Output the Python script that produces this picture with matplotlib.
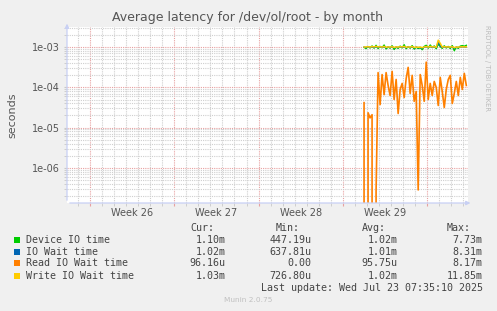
import matplotlib
matplotlib.use("Agg")
import matplotlib.pyplot as plt
import numpy as np
from matplotlib.patches import Rectangle

# data: one sample every 4 hours, starting ~24.7 days into the graph window (days)
t_start = 24.69
step = 1.0 / 6.0

# Device IO time, ms
device_io_ms = [1.00, 0.93, 1.04, 0.96, 1.08, 0.95, 1.12, 0.93, 1.05, 0.97, 1.14, 0.91, 1.02,
                0.95, 1.09, 0.88, 1.01, 0.94, 1.07, 0.96, 1.16, 0.92, 1.04, 0.95, 1.10, 0.90,
                1.01, 0.93, 0.98, 0.87, 1.05, 1.12, 0.95, 1.14, 0.98, 1.08, 0.92, 1.20, 1.04,
                0.94, 1.09, 0.96, 1.05, 0.93, 1.10, 0.82, 1.01, 0.94, 1.07, 1.10, 1.06, 1.12]
# IO Wait time, ms
io_wait_ms = [1.00, 0.99, 1.01, 1.00, 1.02, 0.99, 1.03, 1.00, 1.01, 1.00, 1.04, 0.98, 1.00,
              0.99, 1.02, 0.97, 1.00, 0.99, 1.01, 1.00, 1.04, 0.98, 1.01, 0.99, 1.03, 0.97,
              1.00, 0.98, 0.99, 0.96, 1.01, 1.03, 0.99, 1.04, 1.00, 1.02, 0.98, 1.35, 1.10,
              0.99, 1.02, 1.00, 1.01, 0.99, 1.02, 0.95, 1.00, 0.99, 1.01, 1.02, 1.01, 1.02]
# Read IO Wait time, us
read_wait_us = [41.7, 0.0, 23.4, 17.4, 20.9, 0.0, 0.26, 234, 37.2, 209, 66, 234, 112,
                63, 251, 50, 158, 22.4, 89, 126, 56, 166, 316, 71, 200, 45,
                79, 0.28, 209, 112, 45, 427, 50, 126, 63, 141, 100, 35.5, 178,
                79, 31.6, 89, 158, 200, 39.8, 71, 141, 63, 178, 89, 224, 112]
# Write IO Wait time, ms
write_wait_ms = [1.01, 1.02, 1.03, 1.01, 1.04, 1.02, 1.05, 1.02, 1.03, 1.01, 1.05, 1.00, 1.02,
                 1.01, 1.03, 0.99, 1.02, 1.01, 1.03, 1.02, 1.05, 1.00, 1.02, 1.01, 1.04, 0.99,
                 1.01, 1.00, 1.01, 0.98, 1.02, 1.04, 1.01, 1.05, 1.02, 1.03, 1.00, 1.50, 1.25,
                 1.01, 1.03, 1.02, 1.02, 1.01, 1.03, 0.98, 1.01, 1.01, 1.02, 1.03, 1.02, 1.03]

series_names = ["Device IO time", "IO Wait time", "Read IO Wait time", "Write IO Wait time"]
series_colors = ["#00cc00", "#0066b3", "#ff8000", "#ffcc00"]
cur_vals = ["1.10m", "1.02m", "96.16u", "1.03m"]
min_vals = ["447.19u", "637.81u", "0.00", "726.80u"]
avg_vals = ["1.02m", "1.01m", "95.75u", "1.02m"]
max_vals = ["7.73m", "8.31m", "8.17m", "11.85m"]

week_labels = ["Week 26", "Week 27", "Week 28", "Week 29"]
week_starts = [1.92, 8.92, 15.92, 22.92, 29.92]
x_span = 33.33

W, H = 497, 311
fig = plt.figure(figsize=(W / 100, H / 100), dpi=100, facecolor="#f0f0f0")
ax = fig.add_axes([67 / W, 1 - 203 / H, 401 / W, 176 / H])
ax.set_facecolor("white")

t = t_start + step * np.arange(len(device_io_ms))
ax.plot(t, np.array(device_io_ms) * 1e-3, color=series_colors[0], lw=1.0, zorder=3)
ax.plot(t, np.array(io_wait_ms) * 1e-3, color=series_colors[1], lw=1.0, zorder=3)
ax.plot(t, np.array(read_wait_us) * 1e-6, color=series_colors[2], lw=1.2, zorder=3)
ax.plot(t, np.array(write_wait_ms) * 1e-3, color=series_colors[3], lw=1.1, zorder=3)

ax.set_yscale("log", nonpositive="clip")
ax.set_ylim(1.32e-7, 3.2e-3)
ax.set_xlim(0, x_span)

# grid
ax.set_xticks(week_starts)
ax.set_xticks(np.arange(0.92, x_span, 1.0), minor=True)
ax.set_xticklabels([])
ax.set_yticks([1e-6, 1e-5, 1e-4, 1e-3])
ax.set_yticklabels(["1e-06", "1e-05", "1e-04", "1e-03"])
ax.grid(True, which="minor", color="#cfcfcf", ls=(0, (1, 1)), lw=0.8, zorder=1)
ax.grid(True, which="major", color="#e8a0a0", ls=(0, (1, 1)), lw=0.8, zorder=2)
ax.tick_params(axis="y", which="both", length=2, colors="#c8c8c8", labelcolor="#555555",
               labelsize=7, pad=3)
ax.tick_params(axis="x", which="minor", length=2, colors="#c8c8c8")
ax.tick_params(axis="x", which="major", length=2, colors="#e8a0a0")
for s in ax.spines.values():
    s.set_visible(False)

# axis lines with arrows
axis_col = "#c8d0f4"
ax.annotate("", xy=(1.013, 0), xytext=(0, 0), xycoords="axes fraction",
            arrowprops=dict(arrowstyle="-|>", color=axis_col, lw=0.9, mutation_scale=6),
            annotation_clip=False)
ax.annotate("", xy=(0, 1.035), xytext=(0, 0), xycoords="axes fraction",
            arrowprops=dict(arrowstyle="-|>", color=axis_col, lw=0.9, mutation_scale=6),
            annotation_clip=False)

for i, lab in enumerate(week_labels):
    mid = (week_starts[i] + week_starts[i + 1]) / 2
    ax.text(mid, -0.055, lab, transform=ax.get_xaxis_transform(), ha="center", va="center",
            fontsize=7, color="#555555")

fig.text(248 / W, 1 - 18 / H, "Average latency for /dev/ol/root - by month", ha="center",
         va="center", fontsize=9, color="#555555")
fig.text(12 / W, 1 - 115 / H, "seconds", rotation=90, ha="center", va="center",
         fontsize=8, color="#555555")
fig.text(487 / W, 1 - 25 / H, "RRDTOOL / TOBI OETIKER", rotation=270, ha="center", va="top",
         fontsize=4.9, color="#bbbbbb")

# legend
mono = dict(family="DejaVu Sans Mono", fontsize=7.2, color="#444444", va="center")
cols_x = [225.7, 311.7, 397.3, 482.7]
headers = ["Cur:", "Min:", "Avg:", "Max:"]
hdr_x = [190, 276, 361.7, 446.7]
for hx, h in zip(hdr_x, headers):
    fig.text(hx / W, 1 - 228 / H, h, ha="left", **mono)
rows_y = [239.7, 251.7, 263.3, 275.7]
for i, name in enumerate(series_names):
    y = 1 - rows_y[i] / H
    fig.patches.append(Rectangle((14 / W, y - 3 / H), 6 / W, 6 / H, transform=fig.transFigure,
                                 facecolor=series_colors[i], edgecolor="none"))
    fig.text(26.3 / W, y, name, ha="left", **mono)
    for cx, v in zip(cols_x, [cur_vals[i], min_vals[i], avg_vals[i], max_vals[i]]):
        fig.text(cx / W, y, v, ha="right", **mono)
fig.text(482.7 / W, 1 - 287.7 / H, "Last update: Wed Jul 23 07:35:10 2025", ha="right", **mono)
fig.text(248 / W, 1 - 300 / H, "Munin 2.0.75", ha="center", va="center", fontsize=5.3,
         color="#c0c0c0")

fig.savefig("out.png", dpi=100, facecolor=fig.get_facecolor())
